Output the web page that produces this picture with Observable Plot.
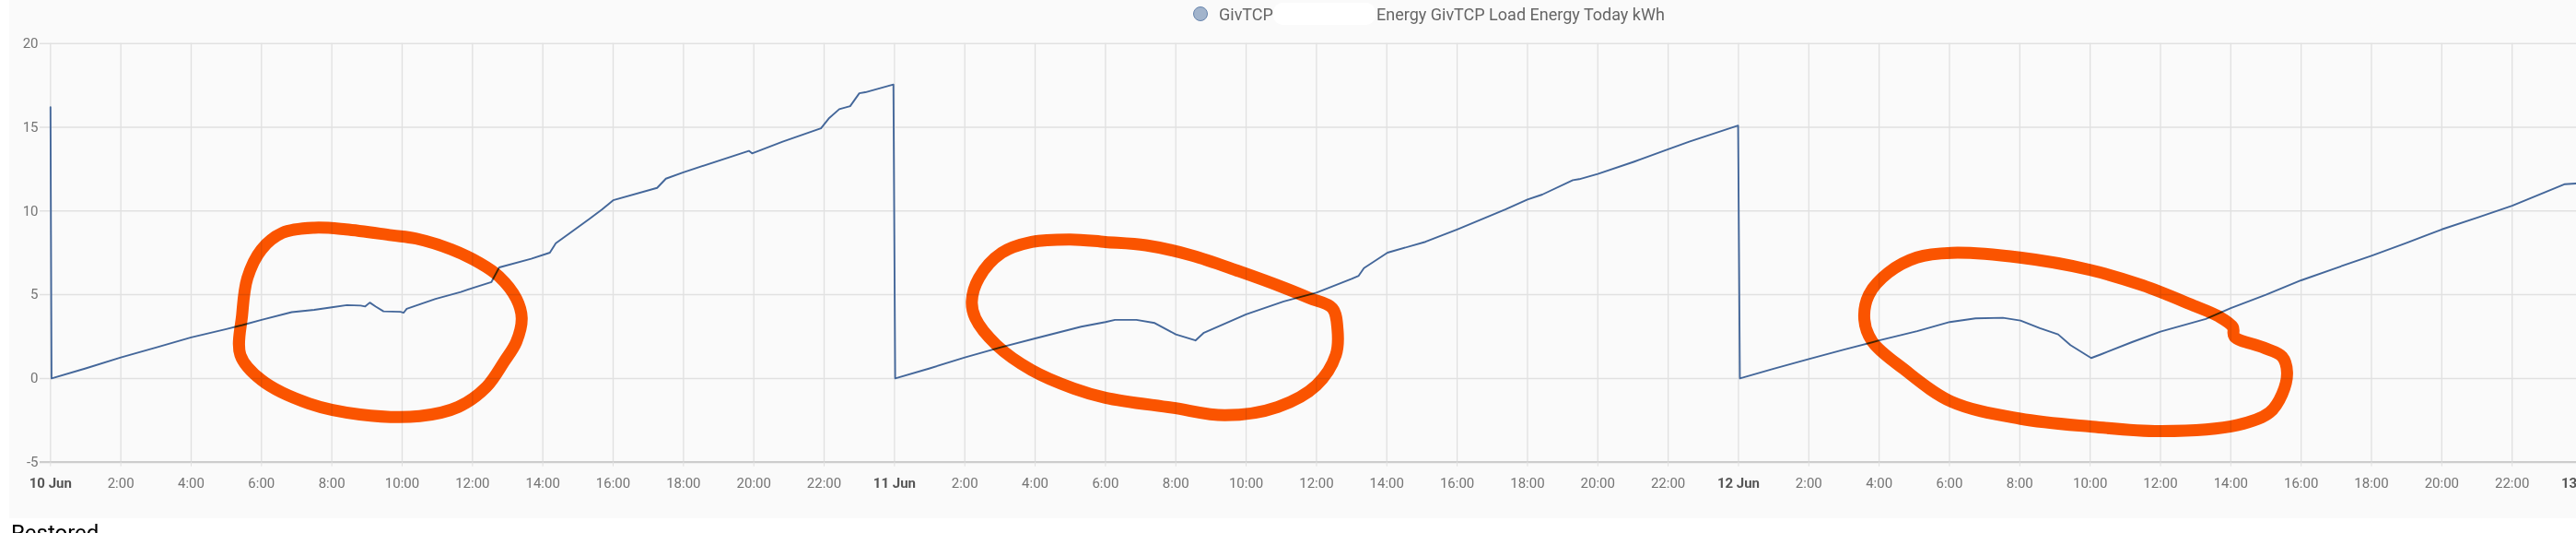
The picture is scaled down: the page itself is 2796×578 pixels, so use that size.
<!DOCTYPE html>
<html>
<head>
<meta charset="utf-8">
<script src="https://cdn.jsdelivr.net/npm/d3@7"></script>
<script src="https://cdn.jsdelivr.net/npm/@observablehq/plot@0.6"></script>
<style>
  html, body { margin: 0; padding: 0; background: #ffffff; overflow: hidden; }
  #wrap { position: relative; width: 2796px; height: 578px; overflow: hidden; font-family: Roboto, "Noto Sans", sans-serif; }
  #panel { position: absolute; left: 10px; top: 0; width: 2786px; height: 562px; background: #fafafa; }
  #legend { position: absolute; left: 0; top: 0; width: 2796px; height: 32px; }
  #legend .dot { position: absolute; left: 1295px; top: 7px; width: 16px; height: 16px; border-radius: 50%; background: #a2b4cc; border: 1.5px solid #6784ad; box-sizing: border-box; }
  #legend .txt { position: absolute; top: 0; line-height: 32px; font-size: 18px; color: #666666; white-space: nowrap; }
  #legend .hide { position: absolute; left: 1382px; top: 3px; width: 111px; height: 24px; background: #ffffff; border-radius: 10px; }
  #chart { position: absolute; left: 0; top: 32px; width: 2880px; }
  #chart svg { max-width: none !important; }
  #restored { position: absolute; left: 12px; top: 566px; font-size: 24px; line-height: 24px; color: #000; font-family: Roboto, sans-serif; white-space: nowrap; }
</style>
</head>
<body>
<div id="wrap">
  <div id="panel"></div>
  <div id="legend">
    <span class="dot"></span>
    <span class="txt" id="lg1" style="left:1323px"></span>
    <span class="hide"></span>
    <span class="txt" id="lg2" style="left:1494px"></span>
  </div>
  <div id="chart"></div>
  <div id="restored">Restored</div>
</div>
<script>
// ---- Data (hours since 10 Jun 00:00, energy kWh) ----
const seriesName = "GivTCP";
const seriesLabel = "Energy GivTCP Load Energy Today kWh";

const hours = [
  0, 0.03, 1, 2, 3, 4, 5, 5.46, 6, 6.86, 7.5, 8, 8.43, 8.82, 8.95, 9.08, 9.25, 9.47, 9.95, 10.04, 10.13, 10.95,
  11.67, 12.0, 12.54, 12.76, 13.67, 14.2, 14.37, 15.33, 15.68, 16.0, 17.25, 17.5, 17.98, 19.86, 19.95, 20.82,
  21.91, 22.13, 22.43, 22.74, 23.0, 23.17, 23.97,
  24.02, 25, 26, 27, 28, 29.31, 30, 30.27, 30.88, 31.4, 32, 32.56, 32.8, 34, 35.07, 36, 37, 37.2, 37.35,
  38.02, 39.1, 40, 41.37, 42, 42.42, 43.29, 43.47, 44, 45.04, 46, 46.6, 47.99,
  48.04, 49, 50, 51, 52, 53.08, 54.01, 54.74, 55.52, 56.02, 56.57, 57.09, 57.44, 58.03, 58.31, 59.19, 60,
  61.29, 62, 63, 64, 65, 66, 67, 68, 69, 70, 71.5, 71.9
];
const kwh = [
  16.2, 0, 0.6, 1.25, 1.85, 2.45, 2.95, 3.19, 3.5, 3.96, 4.1, 4.25, 4.38, 4.35, 4.3, 4.53, 4.29, 4.01, 3.98, 3.92, 4.16, 4.75,
  5.16, 5.4, 5.76, 6.63, 7.15, 7.51, 8.07, 9.54, 10.09, 10.64, 11.38, 11.93, 12.3, 13.59, 13.44, 14.14,
  14.94, 15.52, 16.08, 16.26, 17.03, 17.09, 17.55,
  0, 0.6, 1.25, 1.85, 2.39, 3.09, 3.37, 3.5, 3.5, 3.31, 2.63, 2.27, 2.73, 3.83, 4.6, 5.12, 5.95, 6.13, 6.59,
  7.51, 8.16, 8.9, 10.09, 10.68, 10.98, 11.84, 11.9, 12.21, 12.95, 13.68, 14.14, 15.1,
  0, 0.58, 1.16, 1.72, 2.27, 2.82, 3.37, 3.59, 3.62, 3.46, 3.0, 2.63, 1.99, 1.22, 1.44, 2.17, 2.8,
  3.55, 4.2, 5.0, 5.86, 6.6, 7.33, 8.1, 8.9, 9.6, 10.31, 11.6, 11.65
];

// hand-drawn annotation loops (hours, kWh)
const loop1H = [5.45, 5.6, 6.0, 6.6, 7.5, 8.4, 9.7, 10.4, 11.4, 12.2, 12.75, 13.25, 13.4, 13.25, 12.9, 12.4, 11.6, 10.5, 8.8, 7.35, 6.0, 5.4];
const loop1V = [3.8, 6.0, 7.7, 8.7, 9.0, 8.9, 8.55, 8.35, 7.7, 6.9, 6.1, 4.75, 3.6, 2.2, 1.0, -0.5, -1.7, -2.25, -2.15, -1.5, -0.1, 1.4];
const loop2H = [26.2, 26.4, 27.05, 27.9, 29.0, 30.0, 31.15, 32.45, 33.8, 35.1, 35.8, 36.45, 36.6, 36.55, 36.0, 34.9, 33.4, 31.9, 30.0, 29.1, 27.9, 26.9, 26.3];
const loop2V = [4.6, 6.0, 7.5, 8.15, 8.3, 8.15, 7.95, 7.35, 6.4, 5.4, 4.8, 4.2, 2.9, 1.4, -0.4, -1.7, -2.2, -1.75, -1.15, -0.6, 0.5, 2.0, 3.6];
const loop3H = [51.58, 51.71, 52.25, 53.07, 54.06, 56.0, 58.0, 59.49, 60.84, 61.66, 62.06, 62.1, 62.92, 63.46, 63.6, 63.46, 63.1, 62.2, 60.03, 58.0, 56.0, 54.06, 52.7, 51.8];
const loop3V = [3.52, 5.0, 6.3, 7.22, 7.5, 7.22, 6.48, 5.56, 4.44, 3.7, 3.06, 2.5, 1.85, 1.3, 0.37, -0.93, -2.04, -2.78, -3.15, -2.87, -2.4, -1.39, 0.56, 2.22];

// axis ticks and labels
const yTicks = [-5, 0, 5, 10, 15, 20];
const dayTickHours = [0, 24, 48, 72];
const dayLabels = ["10 Jun", "11 Jun", "12 Jun", "13 Jun"];
const hourOfDay = [2, 4, 6, 8, 10, 12, 14, 16, 18, 20, 22];
const hourLabels = ["2:00", "4:00", "6:00", "8:00", "10:00", "12:00", "14:00", "16:00", "18:00", "20:00", "22:00"];

// ---- Build tables ----
document.getElementById("lg1").textContent = seriesName;
document.getElementById("lg2").textContent = seriesLabel;

const series = hours.map((h, i) => ({h, v: kwh[i]}));
const loops = [];
[[loop1H, loop1V], [loop2H, loop2V], [loop3H, loop3V]].forEach(([H, V], k) => {
  H.forEach((h, i) => loops.push({id: k, h, v: V[i]}));
});

const labelMap = new Map();
dayTickHours.forEach((h, i) => labelMap.set(h, dayLabels[i]));
const hourTicks = [];
[0, 24, 48].forEach(base => hourOfDay.forEach((h, i) => { hourTicks.push(base + h); labelMap.set(base + h, hourLabels[i]); }));
const allTicks = [...dayTickHours, ...hourTicks].sort((a, b) => a - b);

const chart = Plot.plot({
  width: 2880,
  height: 530,
  marginTop: 14.7,
  marginBottom: 61.3,
  marginLeft: 43,
  marginRight: 0,
  style: {background: "transparent", fontFamily: "Roboto, sans-serif", fontSize: "15px", overflow: "visible", maxWidth: "none"},
  x: {type: "linear", domain: [-0.296, 74.03], label: null},
  y: {domain: [-5, 20], label: null},
  marks: [
    Plot.gridX(allTicks, {stroke: "#e0e0e0", strokeOpacity: 1, strokeWidth: 1.3}),
    Plot.ruleY(yTicks.filter(d => d !== -5), {stroke: "#e1e1e1", strokeWidth: 1.5}),
    Plot.ruleY([-5], {stroke: "#cdcdcd", strokeWidth: 2.2}),
    Plot.axisX(hourTicks, {anchor: "bottom", tickSize: 5, tickPadding: 11.7, tickFormat: d => labelMap.get(d), stroke: "#e0e0e0", fill: "#747474", fontSize: 15, label: null}),
    Plot.axisX(dayTickHours, {anchor: "bottom", tickSize: 5, tickPadding: 11.7, tickFormat: d => labelMap.get(d), stroke: "#e0e0e0", fill: "#555555", fontSize: 15, fontWeight: "bold", label: null}),
    Plot.axisY(yTicks, {anchor: "left", tickSize: 0, tickPadding: 2, tickFormat: d => String(d), fill: "#747474", fontSize: 15, label: null}),
    Plot.line(series, {x: "h", y: "v", stroke: "#44679a", strokeWidth: 1.9}),
    Plot.line(loops, {x: "h", y: "v", z: "id", curve: "catmull-rom-closed", stroke: "#ff5500", strokeWidth: 13, strokeLinejoin: "round", mixBlendMode: "multiply"})
  ]
});
document.getElementById("chart").appendChild(chart);
</script>
</body>
</html>
